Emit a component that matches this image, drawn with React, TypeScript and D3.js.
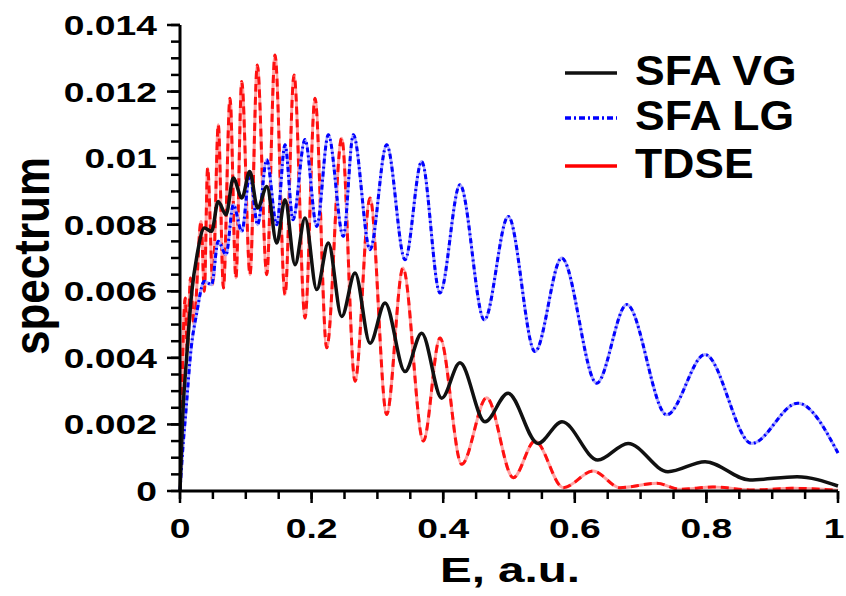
import React, { useEffect, useRef } from 'react';
import * as d3 from 'd3';

const sfaVG: [number, number][] = [
  [0, 0], [0.004, 0.0022], [0.01, 0.004], [0.018, 0.006], [0.026, 0.0071],
  [0.037, 0.0079], [0.048, 0.0078], [0.058, 0.0087], [0.07, 0.0083], [0.081, 0.0094],
  [0.094, 0.0088], [0.106, 0.0096], [0.118, 0.0085], [0.132, 0.00915], [0.147, 0.00745],
  [0.1596, 0.00875], [0.1748, 0.0068], [0.19, 0.0082], [0.2078, 0.00605], [0.2254, 0.00745],
  [0.2457, 0.00524], [0.266, 0.00655], [0.2888, 0.00444], [0.3116, 0.00565], [0.342, 0.00359],
  [0.3673, 0.00474], [0.3977, 0.00279], [0.4255, 0.00385], [0.4635, 0.00208], [0.4985, 0.00294],
  [0.544, 0.00143], [0.5805, 0.00208], [0.635, 0.00093], [0.681, 0.00143], [0.7416, 0.00058],
  [0.798, 0.00088], [0.866, 0.00033], [0.9377, 0.00043], [1.0, 0.00015],
];

const sfaLG: [number, number][] = [
  [0, 0], [0.004, 0.0012], [0.009, 0.0024], [0.017, 0.0043], [0.025, 0.0053],
  [0.037, 0.0063], [0.048, 0.0062], [0.058, 0.0075], [0.07, 0.0071], [0.081, 0.0086],
  [0.094, 0.0078], [0.106, 0.0095], [0.118, 0.008], [0.1318, 0.00995], [0.147, 0.008],
  [0.1596, 0.0104], [0.1717, 0.00815], [0.19, 0.01056], [0.2078, 0.00795], [0.2254, 0.0107],
  [0.2482, 0.00765], [0.2634, 0.0107], [0.2888, 0.00725], [0.3141, 0.0104], [0.342, 0.00695],
  [0.3673, 0.0099], [0.3951, 0.00595], [0.4255, 0.0092], [0.4625, 0.00514], [0.4989, 0.00825],
  [0.5395, 0.00419], [0.5801, 0.007], [0.6333, 0.00324], [0.6789, 0.0056], [0.7397, 0.00229],
  [0.7979, 0.0041], [0.8688, 0.00143], [0.9388, 0.00264], [1.0, 0.00114],
];

const tdse: [number, number][] = [
  [0.002, 0.0021], [0.008, 0.0058], [0.011, 0.0042], [0.016, 0.0064], [0.021, 0.005],
  [0.032, 0.0081], [0.037, 0.006], [0.042, 0.0097], [0.05, 0.0062], [0.0582, 0.011],
  [0.066, 0.0061], [0.076, 0.0118], [0.085, 0.0064], [0.0938, 0.0123], [0.1064, 0.0065],
  [0.1175, 0.0128], [0.1318, 0.0065], [0.1444, 0.0131], [0.1596, 0.0059], [0.1733, 0.0125],
  [0.19, 0.0052], [0.2052, 0.0118], [0.223, 0.0043], [0.2457, 0.0106], [0.266, 0.0033],
  [0.2888, 0.0088], [0.3141, 0.0023], [0.3389, 0.0067], [0.3698, 0.0015], [0.3951, 0.0046],
  [0.4281, 0.0008], [0.4661, 0.0028], [0.5065, 0.0004], [0.5395, 0.0015], [0.5825, 0.0001],
  [0.628, 0.0006], [0.6687, 0.0001], [0.7245, 0.00023], [0.76, 0.00005], [0.81, 0.00012],
  [0.87, 0.00003], [0.93, 0.00008], [1.0, 0.00002],
];

const xTicks = [0, 0.2, 0.4, 0.6, 0.8, 1];
const xTickLabels = ['0', '0.2', '0.4', '0.6', '0.8', '1'];
const yTicks = [0, 0.002, 0.004, 0.006, 0.008, 0.01, 0.012, 0.014];
const yTickLabels = ['0', '0.002', '0.004', '0.006', '0.008', '0.01', '0.012', '0.014'];
const seriesNames = ['SFA VG', 'SFA LG', 'TDSE'];

const FONT = '"Liberation Sans", Arial, Helvetica, sans-serif';

const App = () => {
  const svgRef = useRef<SVGSVGElement>(null);

  useEffect(() => {
    const width = 846;
    const height = 596;
    const svg = d3.select(svgRef.current).attr('width', width).attr('height', height);
    svg.selectAll('*').remove();

    svg.append('rect').attr('width', width).attr('height', height).attr('fill', '#fff');

    const x = d3.scaleLinear().domain([0, 1]).range([180, 838]);
    const y = d3.scaleLinear().domain([0, 0.014]).range([491, 25]);

    const line = d3.line<[number, number]>()
      .x(d => x(d[0]))
      .y(d => y(d[1]))
      .curve(d3.curveMonotoneX);

    const plot = svg.append('g').attr('fill', 'none');

    // TDSE: pale underlay with red dashes on top
    plot.append('path').datum(tdse).attr('d', line)
      .attr('stroke', '#ffa3a3').attr('stroke-width', 3);
    plot.append('path').datum(tdse).attr('d', line)
      .attr('stroke', '#ff1010').attr('stroke-width', 3).attr('stroke-dasharray', '8,5');

    // SFA LG: pale underlay with blue dash-dot
    plot.append('path').datum(sfaLG).attr('d', line)
      .attr('stroke', '#a8a8ff').attr('stroke-width', 3);
    plot.append('path').datum(sfaLG).attr('d', line)
      .attr('stroke', '#0000ff').attr('stroke-width', 3).attr('stroke-dasharray', '5,3,2,3');

    // SFA VG
    plot.append('path').datum(sfaVG).attr('d', line)
      .attr('stroke', '#111').attr('stroke-width', 3.5);

    // axes
    const ax = svg.append('g').attr('stroke', '#000');
    ax.append('line').attr('x1', 180).attr('x2', 180).attr('y1', 25).attr('y2', 491).attr('stroke-width', 3);
    ax.append('line').attr('x1', 180).attr('x2', 838).attr('y1', 491).attr('y2', 491).attr('stroke-width', 3);

    ax.selectAll('.xminor').data(x.ticks(20)).enter().append('line')
      .attr('x1', d => x(d)).attr('x2', d => x(d)).attr('y1', 491).attr('y2', 499).attr('stroke-width', 2.5);
    ax.selectAll('.xmajor').data(xTicks).enter().append('line')
      .attr('x1', d => x(d)).attr('x2', d => x(d)).attr('y1', 491).attr('y2', 503).attr('stroke-width', 2.5);
    ax.selectAll('.yminor').data(y.ticks(28)).enter().append('line')
      .attr('x1', 171).attr('x2', 180).attr('y1', d => y(d)).attr('y2', d => y(d)).attr('stroke-width', 2.5);
    ax.selectAll('.ymajor').data(yTicks).enter().append('line')
      .attr('x1', 167).attr('x2', 180).attr('y1', d => y(d)).attr('y2', d => y(d)).attr('stroke-width', 2.5);

    const txt = svg.append('g').attr('font-family', FONT).attr('font-weight', 'bold').attr('fill', '#000');

    txt.selectAll('.ylab').data(yTicks).enter().append('text')
      .attr('transform', d => `translate(157,${y(d) + 10}) scale(1.33,1)`)
      .attr('text-anchor', 'end').attr('font-size', 28)
      .text((d, i) => yTickLabels[i]);

    // keep the last label inside the right edge
    txt.selectAll('.xlab').data(xTicks).enter().append('text')
      .attr('transform', d => `translate(${Math.min(x(d), 834)},538) scale(1.33,1)`)
      .attr('text-anchor', 'middle').attr('font-size', 28)
      .text((d, i) => xTickLabels[i]);

    txt.append('text')
      .attr('transform', 'translate(510,582) scale(1.36,1)')
      .attr('text-anchor', 'middle').attr('font-size', 35)
      .text('E, a.u.');

    txt.append('text')
      .attr('transform', 'translate(49,256) scale(1.15,1) rotate(-90)')
      .attr('text-anchor', 'middle').attr('font-size', 44)
      .text('spectrum');

    // legend
    const legendStyles = [
      { color: '#111', dash: null },
      { color: '#0000ff', dash: '6,3,2,3' },
      { color: '#ff0000', dash: null },
    ];
    const rowY = [73, 118, 166];
    seriesNames.forEach((name, i) => {
      const l = svg.append('line')
        .attr('x1', 565).attr('x2', 617).attr('y1', rowY[i]).attr('y2', rowY[i])
        .attr('stroke', legendStyles[i].color).attr('stroke-width', 3.5);
      if (legendStyles[i].dash) l.attr('stroke-dasharray', legendStyles[i].dash);
      txt.append('text')
        .attr('transform', `translate(635,${rowY[i] + 12}) scale(1.06,1)`)
        .attr('font-size', 42)
        .text(name);
    });
  }, []);

  return <svg ref={svgRef} style={{ position: 'absolute', left: 0, top: 0 }} />;
};

export default App;
